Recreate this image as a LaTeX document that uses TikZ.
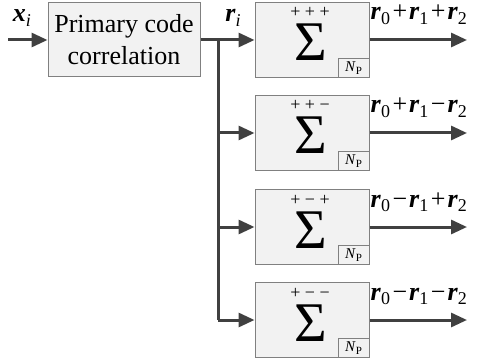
\documentclass[tikz,border=0pt]{standalone}
\usepackage{fontspec}
\setmainfont{Liberation Serif}
\usetikzlibrary{arrows.meta}
\definecolor{ln}{HTML}{404040}
\definecolor{bx}{HTML}{F2F2F2}
\definecolor{bd}{HTML}{808080}
\newcommand\vr{\textbf{\textit{r}}}
\newcommand\vx{\textbf{\textit{x}}}
\newcommand\sbs[1]{\raisebox{-0.4ex}{\fontsize{18}{18}\selectfont #1}}
\newcommand\op[1]{\kern2.5pt#1\kern2pt}
\tikzset{
  blk/.style={draw=bd, fill=bx, line width=1pt, inner sep=0pt},
  sumbox/.style={blk, minimum width=114pt, minimum height=75pt},
  npbox/.style={draw=bd, fill=bx, line width=0.8pt, minimum width=31pt, minimum height=19pt, inner sep=0pt, anchor=south east, font=\fontsize{15}{15}\selectfont},
  conn/.style={draw=ln, line width=3pt},
  arr/.style={conn, -{Triangle[length=16pt,width=14pt]}},
  lbl/.style={font=\fontsize{26}{26}\selectfont, inner sep=0pt, text height=12pt, text depth=5pt},
  sig/.style={font=\fontsize{56}{56}\selectfont, inner sep=0pt, text height=37pt, text depth=0pt},
  signs/.style={font=\fontsize{18}{18}\selectfont, inner sep=0pt, text height=9pt, text depth=0pt}
}
\begin{document}
\begin{tikzpicture}[x=1pt,y=-1pt]
\useasboundingbox (0,0) rectangle (478,363);
\node[blk, minimum width=152pt, minimum height=74pt, align=center, font=\fontsize{26}{32}\selectfont] (pc) at (124,40) {Primary code\\correlation};
\coordinate (in) at (8,40);
\draw[arr] (in) -- (pc.west);
\node[lbl, anchor=base] (xl) at (22,22) {\vx\sbs{\textit{i}}};
\coordinate (br) at (218,40);
\node[lbl, anchor=base] (rl) at (233,22) {\vr\sbs{\textit{i}}};

\foreach \i/\y/\s/\lab in {
  1/40/{+\ +\ +}/{\vr\sbs{0}\op{+}\vr\sbs{1}\op{+}\vr\sbs{2}},
  2/133/{+\ +\ −}/{\vr\sbs{0}\op{+}\vr\sbs{1}\op{−}\vr\sbs{2}},
  3/227/{+\ −\ +}/{\vr\sbs{0}\op{−}\vr\sbs{1}\op{+}\vr\sbs{2}},
  4/320/{+\ −\ −}/{\vr\sbs{0}\op{−}\vr\sbs{1}\op{−}\vr\sbs{2}}}{
  \node[sumbox] (s\i) at (312,\y) {};
  \node[sig, anchor=base] (g\i) at ([xshift=-1pt,yshift=-21pt]s\i.center) {Σ};
  \node[signs, anchor=base] (p\i) at ([xshift=-2pt,yshift=22pt]s\i.center) {\s};
  \node[npbox] (n\i) at (s\i.south east) {\textit{N}\raisebox{-0.3ex}{\fontsize{11}{11}\selectfont P}};
  \coordinate (o\i) at (467,\y);
  \draw[arr] (s\i.east) -- (o\i);
  \node[lbl, anchor=base west] (l\i) at ([xshift=1pt,yshift=20pt]s\i.east) {\lab};
}
\draw[arr] (pc.east) -- (s1.west);
\coordinate (b4) at (218,320);
\draw[conn] (br) -- (b4);
\draw[arr] (br |- s2.west) -- (s2.west);
\draw[arr] (br |- s3.west) -- (s3.west);
\draw[arr] (b4) -- (s4.west);
\end{tikzpicture}
\end{document}
